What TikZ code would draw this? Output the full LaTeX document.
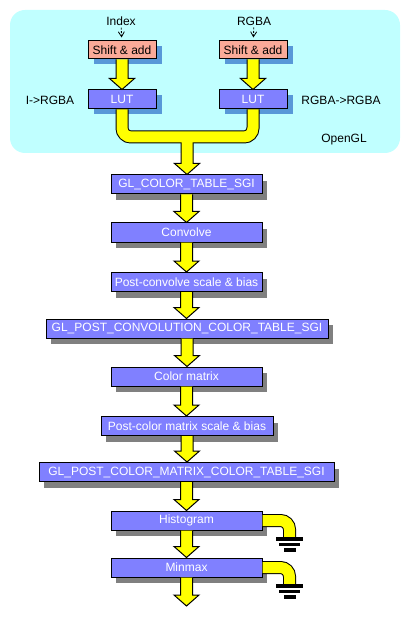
\documentclass[tikz,border=0pt]{standalone}
\usepackage{fontspec}
\setmainfont{Liberation Sans}
\usetikzlibrary{shadows,calc,arrows.meta}
\definecolor{cyanbg}{RGB}{192,255,255}
\definecolor{salmonfill}{RGB}{250,170,152}
\definecolor{boxblue}{RGB}{128,128,255}
\definecolor{shblue}{RGB}{88,152,216}
\definecolor{shgray}{RGB}{128,128,128}
\definecolor{pipeyellow}{RGB}{255,255,0}
\newcommand\fatarrow[2]{%
  \path[fatarr] let \p1=(#1), \p2=(#2) in
    (\x1-6pt,\y1) -- (\x1-6pt,\y2+11pt) -- (\x1-12.5pt,\y2+11pt) -- (\x1,\y2)
    -- (\x1+12.5pt,\y2+11pt) -- (\x1+6pt,\y2+11pt) -- (\x1+6pt,\y1);}
\tikzset{
  txt/.style={font=\fontsize{12pt}{14pt}\selectfont},
  lbl/.style={txt, inner sep=0pt},
  box/.style={txt, draw=black, line width=1pt, inner sep=0pt, minimum height=19pt},
  shiftbox/.style={box, fill=salmonfill, minimum width=68pt, minimum height=18pt,
    drop shadow={shadow xshift=5.5pt, shadow yshift=-5pt, fill=shblue, opacity=1}},
  lutbox/.style={box, fill=boxblue, text=white, minimum width=68pt,
    drop shadow={shadow xshift=5.5pt, shadow yshift=-5pt, fill=shblue, opacity=1}},
  stagebox/.style={box, fill=boxblue, text=white,
    drop shadow={shadow xshift=5pt, shadow yshift=-6pt, fill=shgray, opacity=1}},
  fatarr/.style={fill=pipeyellow, draw=black, line width=1pt, line join=miter},
  pipeout/.style={draw=black, line width=13pt, rounded corners=9pt},
  pipein/.style={draw=pipeyellow, line width=11pt, rounded corners=9pt},
  tickarrow/.style={draw=black, line width=0.8pt, dash pattern=on 2pt off 1.5pt,
    -{Straight Barb[length=5pt,width=6pt]}, shorten <=2pt, shorten >=3pt},
  ground/.pic={
    \fill[black] (-13.5,0) rectangle (13.5,3.5);
    \fill[black] (-10.5,5.5) rectangle (10.5,9);
    \fill[black] (-6,11) rectangle (6,15);
  }
}
\begin{document}
\begin{tikzpicture}[x=1pt,y=-1pt]
\useasboundingbox (0,0) rectangle (409,617);
\fill[white] (0,0) rectangle (409,617);
% OpenGL region
\fill[cyanbg, rounded corners=15pt] (10,10) rectangle (400,153);

% labels
\node[lbl] (idx) at (121,21) {Index};
\node[lbl] (rgba) at (254,21) {RGBA};
\node[lbl] (i2rgba) at (50,100) {I->RGBA};
\node[lbl] (rgba2rgba) at (341,100) {RGBA->RGBA};
\node[lbl] (ogl) at (344,140) {OpenGL};

% boxes
\node[shiftbox] (shl) at (122,50) {Shift \& add};
\node[shiftbox] (shr) at (253,50) {Shift \& add};
\node[lutbox] (lutl) at (122,99.5) {LUT};
\node[lutbox] (lutr) at (253,99.5) {LUT};
\coordinate (mid) at (187,137);

\node[stagebox, minimum width=151pt] (gltab) at (186.5,184.5) {GL\_COLOR\_TABLE\_SGI};
\node[stagebox, minimum width=151pt] (conv) at (186.5,232.5) {Convolve};
\node[stagebox, minimum width=151pt] (pcsb) at (186.5,282) {Post-convolve scale \& bias};
\node[stagebox, minimum width=282pt] (pconv) at (187,328.5) {GL\_POST\_CONVOLUTION\_COLOR\_TABLE\_SGI};
\node[stagebox, minimum width=151pt] (cmat) at (186.5,376.5) {Color matrix};
\node[stagebox, minimum width=172pt] (pcmsb) at (187,426) {Post-color matrix scale \& bias};
\node[stagebox, minimum width=295pt] (pcmct) at (186.5,472) {GL\_POST\_COLOR\_MATRIX\_COLOR\_TABLE\_SGI};
\node[stagebox, minimum width=151pt] (hist) at (186.5,520.5) {Histogram};
\node[stagebox, minimum width=151pt] (minmax) at (186.5,567.5) {Minmax};
\coordinate (out) at (186.5,606);
\coordinate (g1) at (289.5,537);
\coordinate (g2) at (289.5,584);

% thin input arrows
\draw[tickarrow] (idx) -- (shl);
\draw[tickarrow] (rgba) -- (shr);

% yellow arrows
\fatarrow{shl.south}{lutl.north}
\fatarrow{shr.south}{lutr.north}
\draw[pipeout] (lutl.south) |- (mid) -| (lutr.south);
\fatarrow{mid}{gltab.north}
\draw[pipein] (lutl.south) |- (mid) -| (lutr.south);

\fatarrow{gltab.south}{conv.north}
\fatarrow{conv.south}{pcsb.north}
\fatarrow{pcsb.south}{pconv.north}
\fatarrow{pconv.south}{cmat.north}
\fatarrow{cmat.south}{pcmsb.north}
\fatarrow{pcmsb.south}{pcmct.north}
\fatarrow{pcmct.south}{hist.north}
\fatarrow{hist.south}{minmax.north}
\fatarrow{minmax.south}{out}

% pipes to ground
\draw[pipeout] (hist.east) -| (g1);
\draw[pipein] (hist.east) -| (g1);
\pic at (g1) {ground};
\draw[pipeout] (minmax.east) -| (g2);
\draw[pipein] (minmax.east) -| (g2);
\pic at (g2) {ground};
\end{tikzpicture}
\end{document}
